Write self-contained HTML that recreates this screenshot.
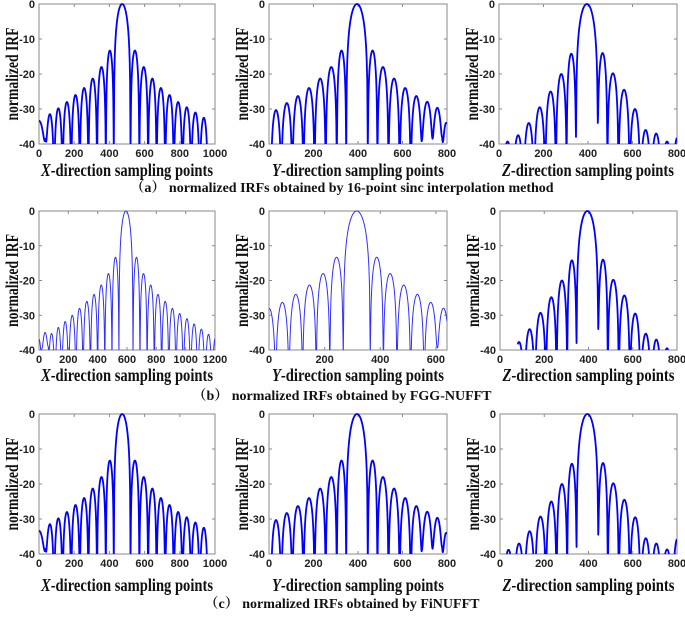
<!DOCTYPE html>
<html><head><meta charset="utf-8">
<style>
body{margin:0;background:#fff;}
svg{display:block;}
.tk{font-family:"Liberation Sans",sans-serif;font-weight:bold;font-size:11px;fill:#222;}
.yl{font-family:"Liberation Serif",serif;font-weight:bold;font-size:18px;fill:#111;}
.xl{font-family:"Liberation Serif",serif;font-weight:bold;font-size:18px;fill:#111;}
.cap{font-family:"Liberation Serif","Noto Serif CJK SC",serif;font-weight:bold;font-size:14px;fill:#111;}
</style></head>
<body>
<svg id="fig" width="685" height="618" viewBox="0 0 685 618" xmlns="http://www.w3.org/2000/svg">
<text class="cap" x="342" y="192" text-anchor="middle">（a） normalized IRFs obtained by 16-point sinc interpolation method</text>
<text class="cap" x="342" y="400" text-anchor="middle">（b） normalized IRFs obtained by FGG-NUFFT</text>
<text class="cap" x="342" y="608" text-anchor="middle">（c） normalized IRFs obtained by FiNUFFT</text>
</svg>
<script>
// ---- data: lobe null positions, lobe peak levels (dB), shallow null depths ----
const yTicks = [0, -10, -20, -30, -40];
const xTicks800 = [0, 200, 400, 600, 800];
const xTicks1000 = [0, 200, 400, 600, 800, 1000];
const xTicks1200 = [0, 200, 400, 600, 800, 1000, 1200];
const xTicks640 = [0, 200, 400, 600];

const a1Nulls = [-38,38,86,134,183,232,281,330,380,425,520,570,620,668,717,766,815,864,913,960,1010];
const a1Peaks = [-33.5,-31.5,-29.8,-28,-26,-24,-21.3,-18,-13.3,0,-13.3,-18,-21.3,-24,-26,-28,-29.5,-31,-32.5,-35];
const a1Depths = {0:-60, 1:-38.5};

const a2Nulls = [8,55,105,155,205,255,305,347,444,487,537,587,637,687,735,778,815];
const a2Peaks = [-30.3,-28.3,-26.3,-24,-21.3,-18,-13.3,0,-13.3,-18,-21.3,-24,-26.3,-28.3,-30.3,-34];
const a2Depths = {13:-39, 14:-38.5, 15:-38};

const a3Nulls = [15,62,110,158,208,256,304,346,444,487,537,587,635,683,730,780,825];
const a3Peaks = [-39.3,-37.5,-34,-29.5,-25,-20,-14.2,0,-14,-19.8,-24.5,-30,-36,-37,-39.3,-38];
const a3Depths = {7:-38, 8:-34};

const b1Nulls = [-20,20,63,109,155,202,252,301,351,400,449,498,545,641,688,737,786,836,885,934,984,1033,1082,1132,1180,1225];
const b1Peaks = [-37,-37,-35.3,-33.5,-31.8,-30,-28,-26,-24,-21.3,-18,-13.3,0,-13.3,-18,-21.3,-24,-26,-28,-29.5,-31,-32.5,-34,-35.5,-36.5];
const b1Depths = {1:-39.5, 2:-39};

const b2Nulls = [-24,24,72,121,170,219,267,364,411,460,509,558,605,650];
const b2Peaks = [-28,-26.3,-24,-21.3,-18,-13.3,0,-13.3,-18,-21.3,-24,-26.3,-28];
const b2Depths = {12:-39};

const b3Nulls = [62,110,158,208,256,304,346,444,487,537,587,635,683,730,780];
const b3Peaks = [-37.7,-34,-29.3,-24.8,-20,-14.2,0,-14,-19.8,-24.3,-29.5,-35.3,-37,-39.5];
const b3Depths = {6:-38, 7:-34};

const c1Nulls = a1Nulls;
const c1Peaks = a1Peaks;
const c2Nulls = a2Nulls;
const c2Peaks = a2Peaks;
const c3Nulls = [15,62,110,158,208,256,304,346,444,487,537,587,635,683,730,780,825];
const c3Peaks = [-38.8,-37,-33.5,-29.3,-25,-20,-14.2,0,-14,-19.8,-24.5,-29.5,-35.5,-37,-38.7,-35.5];
const c3Depths = {7:-38, 8:-34.5};

const panels = [
 {id:'a1',L:39,R:215,T:4,B:144,xmax:1000,xt:xTicks1000,n:a1Nulls,p:a1Peaks,d:a1Depths,rng:[0,965],lab:'X',w:1.8,c:'#0000ff',xo:32},
 {id:'a2',L:269,R:447,T:4,B:144,xmax:800,xt:xTicks800,n:a2Nulls,p:a2Peaks,d:a2Depths,rng:[0,800],lab:'Y',w:1.8,c:'#0000ff',xo:32},
 {id:'a3',L:499,R:677,T:4,B:144,xmax:800,xt:xTicks800,n:a3Nulls,p:a3Peaks,d:a3Depths,rng:[30,800],lab:'Z',w:1.8,c:'#0000ff',xo:32},
 {id:'b1',L:39,R:215,T:211,B:350,xmax:1200,xt:xTicks1200,n:b1Nulls,p:b1Peaks,d:b1Depths,rng:[0,1200],lab:'X',w:1,c:'#3030ff',xo:31},
 {id:'b2',L:269,R:447,T:211,B:350,xmax:640,xt:xTicks640,n:b2Nulls,p:b2Peaks,d:b2Depths,rng:[0,640],lab:'Y',w:1,c:'#3030ff',xo:31},
 {id:'b3',L:500,R:677,T:211,B:350,xmax:800,xt:xTicks800,n:b3Nulls,p:b3Peaks,d:b3Depths,rng:[80,760],lab:'Z',w:1.8,c:'#0000ff',xo:31},
 {id:'c1',L:39,R:215,T:414,B:554,xmax:1000,xt:xTicks1000,n:c1Nulls,p:c1Peaks,d:a1Depths,rng:[0,965],lab:'X',w:1.8,c:'#0000ff',xo:37},
 {id:'c2',L:269,R:447,T:414,B:554,xmax:800,xt:xTicks800,n:c2Nulls,p:c2Peaks,d:a2Depths,rng:[0,800],lab:'Y',w:1.8,c:'#0000ff',xo:37},
 {id:'c3',L:500,R:677,T:414,B:554,xmax:800,xt:xTicks800,n:c3Nulls,p:c3Peaks,d:c3Depths,rng:[30,800],lab:'Z',w:1.8,c:'#0000ff',xo:37}
];

const NS='http://www.w3.org/2000/svg';
const svg=document.getElementById('fig');
function mk(tag,attrs,parent){const e=document.createElementNS(NS,tag);for(const k in attrs)e.setAttribute(k,attrs[k]);(parent||svg).appendChild(e);return e;}

panels.forEach(P=>{
  const xs=v=>P.L+(v/P.xmax)*(P.R-P.L);
  const ys=v=>P.T+(-v/40)*(P.B-P.T);
  const g=mk('g',{});
  
  
  const cp=mk('clipPath',{id:'cp'+P.id},g);
  mk('rect',{x:P.L,y:P.T-2,width:P.R-P.L,height:P.B-P.T+2},cp);
  mk('rect',{x:P.L,y:P.T,width:P.R-P.L,height:P.B-P.T,fill:'#fff',stroke:'#8a8a8a','stroke-width':1},g);
  yTicks.forEach(t=>{
    const y=ys(t);
    mk('line',{x1:P.L,y1:y,x2:P.L+3,y2:y,stroke:'#8a8a8a'},g);
    mk('line',{x1:P.R,y1:y,x2:P.R-3,y2:y,stroke:'#8a8a8a'},g);
    const tx=mk('text',{class:'tk',x:P.L-4,y:y+4,'text-anchor':'end'},g);
    tx.textContent=t;
    
    
  });
  P.xt.forEach(t=>{
    const x=xs(t);
    mk('line',{x1:x,y1:P.B,x2:x,y2:P.B-3,stroke:'#8a8a8a'},g);
    mk('line',{x1:x,y1:P.T,x2:x,y2:P.T+3,stroke:'#8a8a8a'},g);
    const tx=mk('text',{class:'tk',x:x,y:P.B+13,'text-anchor':'middle'},g);
    tx.textContent=t;
    
    
  });
  let d='';
  for(let i=0;i<P.p.length;i++){
    const a=P.n[i],b=P.n[i+1],pk=P.p[i];
    const da=(P.d[i]!==undefined)?P.d[i]:-70;
    const db=(P.d[i+1]!==undefined)?P.d[i+1]:-70;
    const N=40;
    for(let k=0;k<=N;k++){
      const t=k/N;const xv=a+(b-a)*t;
      if(xv<P.rng[0]||xv>P.rng[1])continue;
      const dep=da+(db-da)*t;
      const eps=Math.pow(10,(dep-pk)/10);
      const s=Math.sin(Math.PI*t);
      let yv=pk+10*Math.log10(s*s+eps);
      if(yv<-42)yv=-42;
      d+=(d===''?'M':'L')+xs(xv).toFixed(2)+' '+ys(yv).toFixed(2)+' ';
    }
  }
  const path=mk('path',{d:d,fill:'none',stroke:P.c,'stroke-width':P.w,'clip-path':'url(#cp'+P.id+')','stroke-linejoin':'round'},g);
  
  
  const cy=(P.T+P.B)/2;
  const yl=mk('text',{class:'yl',x:0,y:0,'text-anchor':'middle',textLength:93,lengthAdjust:'spacingAndGlyphs',transform:'translate('+(P.L-21)+','+cy+') rotate(-90)'},g);
  yl.textContent='normalized IRF';
  
  
  const xl=mk('text',{class:'xl',x:(P.L+P.R)/2,y:P.B+P.xo,'text-anchor':'middle',textLength:172,lengthAdjust:'spacingAndGlyphs'},g);
  const it=mk('tspan',{'font-style':'italic'},xl);it.textContent=P.lab;
  const rest=mk('tspan',{},xl);rest.textContent='-direction  sampling points';
  
  
});
</script>
</body></html>
